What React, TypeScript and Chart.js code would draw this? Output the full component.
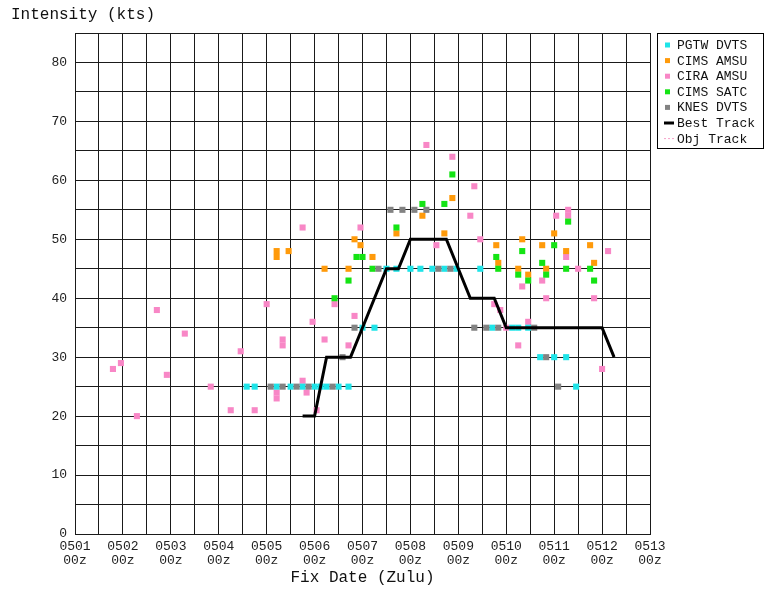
import { useEffect, useRef } from "react";
import { Chart, registerables } from "chart.js";

Chart.register(...registerables);

const MONO = '"Liberation Mono", "DejaVu Sans Mono", monospace';

// Axis labels
const DAY_LABELS = ["0501", "0502", "0503", "0504", "0505", "0506", "0507", "0508", "0509", "0510", "0511", "0512", "0513"];
const HOUR_LABEL = "00z";
const Y_TITLE = "Intensity (kts)";
const X_TITLE = "Fix Date (Zulu)";

// Fix times are hours after 0501 00Z, intensities in knots.
const pgtwHours = [86, 90, 101, 108, 114, 120, 123, 126, 132, 137, 144, 150, 156, 161, 168, 173, 179, 185, 191, 203, 209, 219, 222, 227, 233, 240, 246, 251];
const pgtwKts = [25, 25, 25, 25, 25, 25, 25, 25, 25, 25, 35, 35, 45, 45, 45, 45, 45, 45, 45, 45, 35, 35, 35, 35, 30, 30, 30, 25];

const cimsAmsuHours = [101, 101, 107, 125, 137, 140, 143, 149, 161, 174, 185, 189, 211, 212, 222, 224, 227, 234, 236, 240, 246, 258, 260];
const cimsAmsuKts = [48, 47, 48, 45, 45, 50, 49, 47, 51, 54, 51, 57, 49, 46, 45, 50, 44, 49, 45, 51, 48, 49, 46];

const ciraAmsuHours = [19, 23, 31, 41, 46, 55, 68, 78, 83, 90, 96, 101, 101, 104, 104, 114, 114, 116, 119, 121, 125, 130, 137, 140, 143, 176, 181, 189, 198, 200, 203, 210, 213, 216, 222, 224, 227, 234, 236, 241, 246, 247, 247, 252, 260, 264, 267];
const ciraAmsuKts = [28, 29, 20, 38, 27, 34, 25, 21, 31, 21, 39, 24, 23, 33, 32, 52, 26, 24, 36, 21, 33, 39, 32, 37, 52, 66, 49, 64, 54, 59, 50, 39, 38, 35, 32, 42, 36, 43, 40, 54, 47, 55, 54, 45, 40, 28, 48];

const cimsSatcHours = [130, 137, 141, 144, 149, 161, 174, 185, 189, 211, 212, 222, 224, 227, 234, 236, 240, 246, 247, 258, 260];
const cimsSatcKts = [40, 43, 47, 47, 45, 52, 56, 56, 61, 47, 45, 44, 48, 43, 46, 44, 49, 45, 53, 45, 43];

const knesHours = [98, 104, 111, 117, 129, 134, 140, 152, 158, 164, 170, 176, 182, 188, 200, 206, 212, 230, 236, 242];
const knesKts = [25, 25, 25, 25, 25, 30, 35, 45, 55, 55, 55, 55, 45, 45, 35, 35, 35, 35, 30, 25];

const bestHours = [114, 120, 126, 132, 138, 144, 150, 156, 162, 168, 174, 180, 186, 192, 198, 204, 210, 216, 222, 228, 234, 240, 246, 252, 258, 264, 270];
const bestKts = [20, 20, 30, 30, 30, 35, 40, 45, 45, 50, 50, 50, 50, 45, 40, 40, 40, 35, 35, 35, 35, 35, 35, 35, 35, 35, 30];

const SERIES_NAMES = ["PGTW DVTS", "CIMS AMSU", "CIRA AMSU", "CIMS SATC", "KNES DVTS", "Best Track", "Obj Track"];
const SERIES_COLORS = ["#1ee4e8", "#ff9a0a", "#f887c6", "#14e414", "#828282", "#000000", "#f6a0c8"];

const pts = (xs: number[], ys: number[]) => xs.map((x, i) => ({ x, y: ys[i] }));

const legendPlugin = {
  id: "frameText",
  afterDraw(chart: any) {
    const ctx = chart.ctx as CanvasRenderingContext2D;
    const ca = chart.chartArea;
    ctx.save();
    ctx.fillStyle = "#111";
    ctx.textBaseline = "middle";
    ctx.font = `16px ${MONO}`;
    ctx.textAlign = "left";
    ctx.fillText(Y_TITLE, 11, 15);
    ctx.textAlign = "center";
    ctx.fillText(X_TITLE, (ca.left + ca.right) / 2, 578);

    // legend box
    const bx = 657.5, by = 33.5, bw = 106, bh = 115;
    ctx.fillStyle = "#fff";
    ctx.fillRect(bx, by, bw, bh);
    ctx.strokeStyle = "#000";
    ctx.lineWidth = 1;
    ctx.strokeRect(bx, by, bw, bh);
    ctx.font = `13px ${MONO}`;
    ctx.textAlign = "left";
    SERIES_NAMES.forEach((name, i) => {
      const y = 45 + i * 15.6;
      const color = SERIES_COLORS[i];
      if (i < 5) {
        ctx.fillStyle = color;
        ctx.fillRect(665, y - 2.5, 5, 5);
      } else if (i === 5) {
        ctx.strokeStyle = color;
        ctx.lineWidth = 3;
        ctx.beginPath();
        ctx.moveTo(664, y);
        ctx.lineTo(674, y);
        ctx.stroke();
      } else {
        ctx.strokeStyle = color;
        ctx.lineWidth = 1;
        ctx.setLineDash([2, 2]);
        ctx.beginPath();
        ctx.moveTo(664, y);
        ctx.lineTo(675, y);
        ctx.stroke();
        ctx.setLineDash([]);
      }
      ctx.fillStyle = "#111";
      ctx.fillText(name, 677, y + 0.5);
    });
    ctx.restore();
  },
};

export default function App() {
  const canvasRef = useRef<HTMLCanvasElement | null>(null);

  useEffect(() => {
    const canvas = canvasRef.current;
    if (!canvas) return;
    const marker = (i: number, data: { x: number; y: number }[], order: number) => ({
      label: SERIES_NAMES[i],
      data,
      order,
      backgroundColor: SERIES_COLORS[i],
      borderColor: SERIES_COLORS[i],
      borderWidth: 0,
      pointStyle: "rect" as const,
      pointRadius: 4.3,
      showLine: false,
    });

    const chart = new Chart(canvas, {
      type: "scatter",
      data: {
        datasets: [
          marker(0, pts(pgtwHours, pgtwKts), 2),
          marker(1, pts(cimsAmsuHours, cimsAmsuKts), 4),
          marker(2, pts(ciraAmsuHours, ciraAmsuKts), 5),
          marker(3, pts(cimsSatcHours, cimsSatcKts), 3),
          marker(4, pts(knesHours, knesKts), 1),
          {
            label: SERIES_NAMES[5],
            data: pts(bestHours, bestKts),
            order: 0,
            showLine: true,
            borderColor: SERIES_COLORS[5],
            borderWidth: 3,
            pointRadius: 0,
            tension: 0,
          },
          {
            label: SERIES_NAMES[6],
            data: [],
            order: 6,
            showLine: true,
            borderColor: SERIES_COLORS[6],
            borderDash: [2, 2],
            borderWidth: 1,
            pointRadius: 0,
          },
        ],
      },
      options: {
        animation: false,
        responsive: false,
        events: [],
        layout: { padding: { left: 0, top: 33, right: 115, bottom: 0 } },
        plugins: { legend: { display: false }, tooltip: { enabled: false } },
        scales: {
          x: {
            type: "linear",
            min: 0,
            max: 288,
            afterFit: (s: any) => { s.height = 57; },
            grid: { color: "#1a1a1a", lineWidth: 1, drawTicks: false },
            border: { color: "#1a1a1a" },
            ticks: {
              stepSize: 12,
              autoSkip: false,
              maxRotation: 0,
              padding: 6,
              color: "#222",
              font: { family: MONO, size: 13, lineHeight: 1.05 },
              callback: (v: any) => (Number(v) % 24 === 0 ? [DAY_LABELS[Number(v) / 24], HOUR_LABEL] : ""),
            },
          },
          y: {
            min: 0,
            max: 85,
            afterFit: (s: any) => { s.width = 75; },
            grid: { color: "#1a1a1a", lineWidth: 1, drawTicks: false },
            border: { color: "#1a1a1a" },
            ticks: {
              stepSize: 5,
              autoSkip: false,
              padding: 8,
              color: "#222",
              font: { family: MONO, size: 13 },
              callback: (v: any) => (Number(v) % 10 === 0 ? String(v) : ""),
            },
          },
        },
      },
      plugins: [legendPlugin],
    });
    return () => chart.destroy();
  }, []);

  return (
    <div style={{ position: "absolute", left: 0, top: 0, width: 765, height: 591, background: "#fff" }}>
      <canvas ref={canvasRef} width={765} height={591} style={{ display: "block" }} />
    </div>
  );
}
